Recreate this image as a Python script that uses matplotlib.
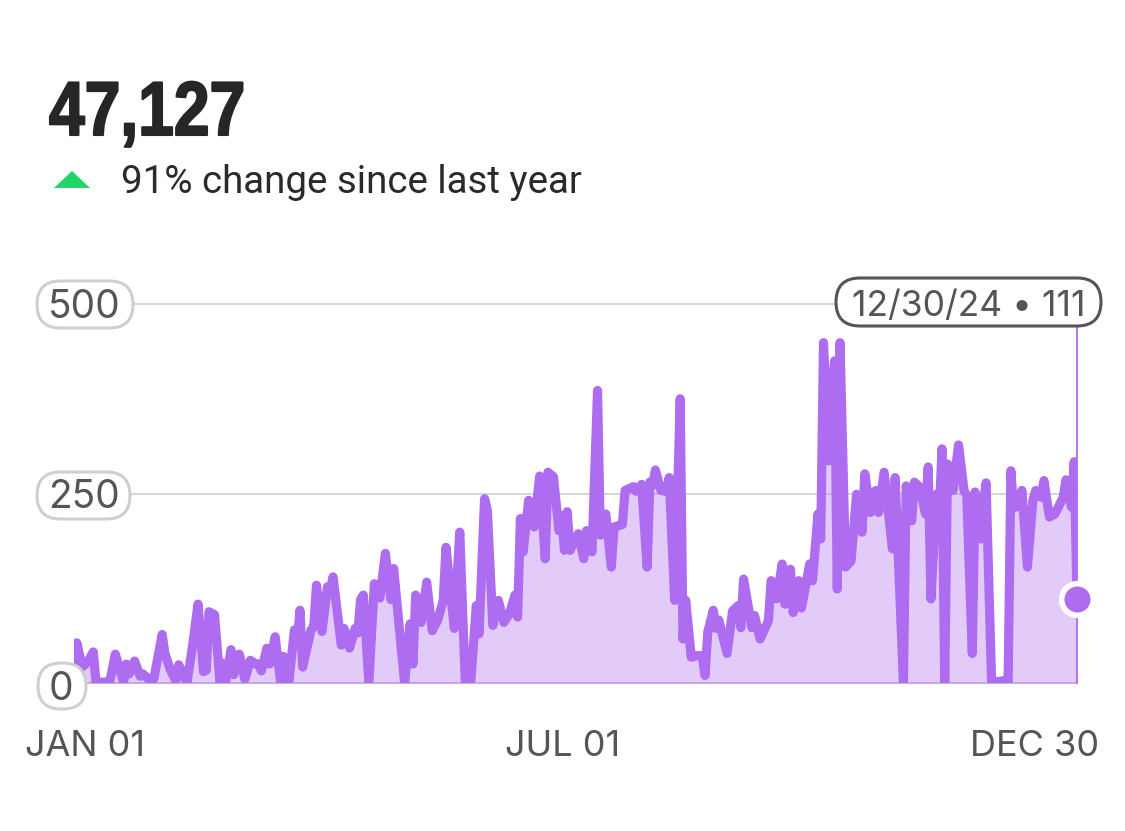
import matplotlib
matplotlib.use("Agg")
import matplotlib.pyplot as plt
from matplotlib.patches import FancyBboxPatch, Polygon
from matplotlib.patheffects import AbstractPathEffect
from matplotlib.transforms import Affine2D

# values (day of the year, count)
days = [
    0, 1, 3, 5, 7, 8, 11, 13, 15, 18,
    19, 20, 22, 24, 25, 28, 29, 32, 33, 35,
    37, 38, 41, 43, 45, 47, 48, 49, 51, 53,
    54, 55, 57, 58, 60, 62, 64, 66, 67, 68,
    70, 71, 73, 75, 76, 78, 80, 81, 82, 83,
    86, 87, 88, 90, 92, 93, 94, 97, 98, 99,
    100, 102, 103, 104, 105, 107, 109, 111, 113, 115,
    116, 117, 120, 122, 123, 124, 126, 128, 130, 132,
    134, 135, 138, 140, 142, 144, 146, 147, 149, 150,
    152, 154, 156, 158, 160, 161, 162, 163, 165, 167,
    169, 171, 172, 174, 176, 177, 178, 179, 180, 183, 185,
    186, 188, 190, 191, 193, 195, 196, 199, 200, 203,
    204, 206, 208, 209, 210, 211, 213, 215, 216, 218,
    220, 221, 222, 224, 226, 228, 229, 230, 232, 233,
    234, 237, 239, 241, 242, 243, 246, 247, 249, 252,
    253, 255, 257, 258, 260, 261, 263, 264, 267, 268,
    270, 271, 272, 274, 276, 277, 278, 280, 282, 284,
    286, 287, 289, 291, 292, 294, 297, 298, 301, 302,
    304, 305, 307, 309, 310, 311, 313, 314, 315, 316,
    317, 319, 321, 323, 324, 326, 327, 329, 330, 331,
    333, 336, 337, 339, 340, 341, 343, 344, 346, 348,
    349, 351, 352, 354, 356, 359, 360, 362, 363, 364,
]
counts = [
    0, 53, 21, 28, 41, 1, 1, 2, 38, 1,
    25, 12, 29, 9, 12, 2, 6, 64, 39, 17,
    3, 24, 1, 48, 104, 15, 17, 94, 90, 1,
    26, 1, 44, 11, 38, 5, 30, 25, 25, 16,
    46, 25, 61, 1, 35, 2, 70, 52, 96, 21,
    70, 74, 129, 68, 127, 120, 140, 50, 72, 60,
    46, 72, 66, 110, 116, 1, 131, 112, 171, 110,
    151, 113, 0, 78, 25, 116, 80, 133, 69, 83,
    109, 179, 72, 199, 0, 2, 102, 65, 243, 228,
    76, 109, 80, 91, 116, 87, 217, 173, 241, 206,
    273, 164, 278, 272, 201, 221, 175, 226, 175, 197, 164,
    201, 173, 386, 195, 223, 153, 206, 209, 254, 259,
    253, 262, 153, 265, 261, 281, 254, 253, 271, 109,
    375, 58, 109, 34, 36, 36, 10, 67, 96, 72,
    83, 39, 95, 102, 73, 137, 73, 89, 58, 82,
    135, 111, 157, 104, 150, 93, 135, 99, 157, 135,
    223, 190, 449, 293, 425, 124, 449, 153, 161, 249,
    199, 276, 225, 254, 225, 278, 177, 271, 0, 260,
    214, 265, 258, 223, 285, 111, 249, 221, 309, 0,
    289, 254, 314, 254, 247, 39, 252, 190, 236, 264,
    2, 2, 3, 1, 280, 231, 234, 254, 153, 241,
    254, 245, 267, 219, 223, 245, 268, 232, 292, 111,
]
y_ticks = [0, 250, 500]
y_labels = ["0", "250", "500"]
x_labels = ["JAN 01", "JUL 01", "DEC 30"]

W, H = 1125, 831
PURPLE = "#AE6CF0"
GREY = "#555555"
SANS = "Inter"


class Condense(AbstractPathEffect):
    """Squeezes drawn text sideways, the big number is a tight condensed face."""

    def __init__(self, x0, sx):
        super().__init__()
        self.x0, self.sx = x0, sx

    def draw_path(self, renderer, gc, tpath, affine, rgbFace=None):
        squeeze = Affine2D().translate(-self.x0, 0).scale(self.sx, 1).translate(self.x0, 0)
        gc.set_linewidth(1.5)
        gc.set_foreground(rgbFace)
        renderer.draw_path(gc, tpath, affine + squeeze, rgbFace)


fig = plt.figure(figsize=(W / 100, H / 100), dpi=100, facecolor="white")

# chart area, 0 at y=683px and 500 at y=304px
ax = fig.add_axes([74 / W, 1 - 683 / H, (1077 - 74) / W, (683 - 304) / H])
ax.set_xlim(0, 364)
ax.set_ylim(0, 500)
ax.axis("off")

for t in y_ticks[1:]:
    ax.plot([-5, 364], [t, t], color="#D2D2D2", lw=1.3, clip_on=False, zorder=1)
ax.plot([0, 364], [0, 0], color="#C9B5DE", lw=1.3, clip_on=False, zorder=1)

ax.fill_between(days, counts, 0, color=PURPLE, alpha=0.35, lw=0, zorder=2)
ax.plot(days, counts, color=PURPLE, lw=6.6, solid_joinstyle="round", zorder=3)
ax.plot([364, 364], [0, 470], color=PURPLE, lw=1.3, clip_on=False, zorder=4)
ax.scatter([days[-1]], [counts[-1]], s=520, color=PURPLE, edgecolors="white",
           linewidths=4, clip_on=False, zorder=5)

# overlay in pixel coordinates for the header and the pills
ov = fig.add_axes([0, 0, 1, 1], zorder=10)
ov.set_xlim(0, W)
ov.set_ylim(H, 0)
ov.axis("off")
ov.patch.set_alpha(0)


def pill(x0, x1, y0, y1, edge):
    r = (y1 - y0) / 2
    ov.add_patch(FancyBboxPatch((x0 + r, y0 + r), x1 - x0 - 2 * r, 0,
                                boxstyle=f"round,pad={r},rounding_size={r}",
                                fc="white", ec=edge, lw=2.2))


pill(37, 133, 281, 328, "#CFCFCF")
pill(37, 130, 472, 519, "#CFCFCF")
pill(38, 86, 663, 709, "#CFCFCF")
pill(836, 1101, 278, 326, GREY)

label_x = [84, 84, 61]
for x, y, s in zip(label_x, [307, 498, 689], y_labels[::-1]):
    ov.text(x, y, s, ha="center", va="center", fontsize=28, color=GREY, family=SANS)
ov.text(969, 306, "12/30/24 • 111", ha="center", va="center", fontsize=25.5,
        color=GREY, family=SANS)

for x, s in zip([85, 563, 1035], x_labels):
    ov.text(x, 747, s, ha="center", va="center", fontsize=26, color=GREY, family=SANS)

total = ov.text(49, 135, "47,127", ha="left", va="baseline", fontsize=55,
                fontweight="bold", color="#262626", family="Liberation Sans")
total.set_path_effects([Condense(49, 0.84)])
ov.add_patch(Polygon([[54, 188], [72, 171], [90, 188]], fc="#22D566", ec="none"))
ov.text(121, 193, "91% change since last year", ha="left", va="baseline",
        fontsize=27.7, color="#2A2A2A", family="Roboto")

fig.savefig("out.png", dpi=100)
